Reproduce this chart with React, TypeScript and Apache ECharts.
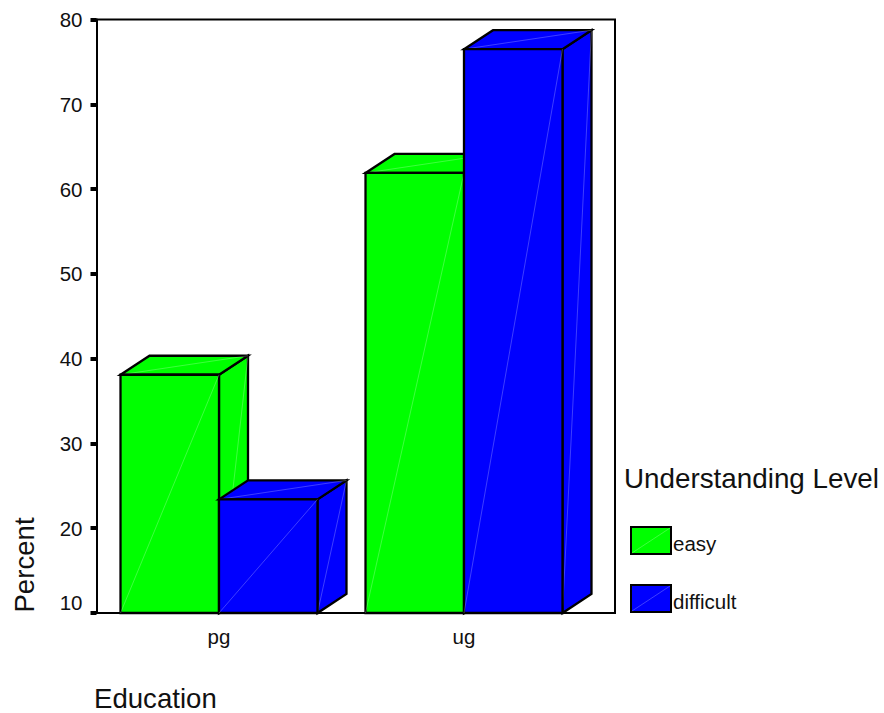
import React, { useEffect, useRef } from "react";
import * as echarts from "echarts";

const categories = ["pg", "ug"];
const easyValues = [38.1, 61.9];
const difficultValues = [23.4, 76.5];
const seriesColors = ["#00ff00", "#0000ff"];
const seriesNames = ["easy", "difficult"];
const yMin = 10;
const yMax = 80;

// Oblique extrusion of each box, in pixels
const depthX = 29;
const depthY = 19;
const barShare = 0.402;
const FONT = '"Liberation Sans", Arial, sans-serif';
const sheen = "rgba(255,255,255,0.35)";

const box3d = (seriesIndex: number) => (params: any, api: any) => {
  const cat = api.value(0);
  const [cx, yTop] = api.coord([cat, api.value(1)]);
  const [, yBase] = api.coord([cat, yMin]);
  const w = api.size([1, 0])[0] * barShare;
  const x0 = seriesIndex === 0 ? cx - w : cx;
  const x1 = x0 + w;
  const fill = seriesColors[seriesIndex];
  const outline = { fill, stroke: "#000", lineWidth: 2.3, lineJoin: "miter" };
  const diag = (x1a: number, y1a: number, x2a: number, y2a: number) => ({
    type: "line",
    shape: { x1: x1a, y1: y1a, x2: x2a, y2: y2a },
    style: { stroke: sheen, lineWidth: 0.7 },
  });
  return {
    type: "group",
    children: [
      {
        type: "polygon",
        shape: { points: [[x1, yTop], [x1 + depthX, yTop - depthY], [x1 + depthX, yBase - depthY], [x1, yBase]] },
        style: outline,
      },
      diag(x1, yBase, x1 + depthX, yTop - depthY),
      {
        type: "polygon",
        shape: { points: [[x0, yTop], [x0 + depthX, yTop - depthY], [x1 + depthX, yTop - depthY], [x1, yTop]] },
        style: outline,
      },
      diag(x0, yTop, x1 + depthX, yTop - depthY),
      {
        type: "polygon",
        shape: { points: [[x0, yTop], [x1, yTop], [x1, yBase], [x0, yBase]] },
        style: outline,
      },
      diag(x0, yBase, x1, yTop),
    ],
  };
};

const swatchLine = (x: number, y: number) => ({
  type: "line",
  silent: true,
  z: 20,
  shape: { x1: x + 1, y1: y + 26, x2: x + 39, y2: y + 1 },
  style: { stroke: sheen, lineWidth: 0.7 },
});

export default function App() {
  const ref = useRef<HTMLDivElement>(null);

  useEffect(() => {
    const chart = echarts.init(ref.current!, undefined, { renderer: "svg" });
    const makeSeries = (name: string, values: number[], i: number) => ({
      name,
      type: "custom",
      coordinateSystem: "cartesian2d",
      clip: false,
      renderItem: box3d(i),
      itemStyle: { color: seriesColors[i] },
      data: values.map((v, c) => [c, v]),
      encode: { x: 0, y: 1 },
    });
    chart.setOption({
      animation: false,
      backgroundColor: "#fff",
      grid: { left: 96.5, top: 19.5, width: 490, height: 593.5 },
      xAxis: {
        type: "category",
        data: categories,
        axisLine: { lineStyle: { color: "#000", width: 2 } },
        axisTick: { alignWithLabel: true, length: 6, lineStyle: { color: "#000", width: 4 } },
        axisLabel: { color: "#111", fontFamily: FONT, fontSize: 20.5, margin: 13 },
        splitLine: { show: false },
      },
      yAxis: {
        type: "value",
        min: yMin,
        max: yMax,
        interval: 10,
        axisLine: { show: true, lineStyle: { color: "#000", width: 2 } },
        axisTick: { show: true, length: 6, lineStyle: { color: "#000", width: 4 } },
        axisLabel: {
          color: "#111",
          fontFamily: FONT,
          fontSize: 20.5,
          margin: 14,
          verticalAlignMinLabel: "bottom",
        },
        splitLine: { show: false },
      },
      legend: {
        orient: "vertical",
        left: 625,
        top: 521,
        itemWidth: 40,
        itemHeight: 27,
        itemGap: 29,
        icon: "rect",
        selectedMode: false,
        data: seriesNames.map((name, i) => ({
          name,
          itemStyle: { color: seriesColors[i], borderColor: "#000", borderWidth: 2 },
        })),
        formatter: (name: string) => `{t|${name}}`,
        textStyle: {
          color: "#111",
          fontFamily: FONT,
          fontSize: 20.5,
          rich: {
            t: { color: "#111", fontFamily: FONT, fontSize: 20.5, padding: [6, 0, 0, -3] },
          },
        },
      },
      graphic: [
        {
          type: "polyline",
          silent: true,
          shape: { points: [[586, 613], [615, 613], [615, 19.5], [96, 19.5]] },
          style: { stroke: "#000", lineWidth: 2, fill: "none" },
        },
        swatchLine(631, 527),
        swatchLine(631, 585),
        {
          type: "text",
          x: 624,
          y: 478,
          style: { text: "Understanding Level", fill: "#111", font: `27.8px ${FONT}`, textVerticalAlign: "middle" },
        },
        {
          type: "text",
          x: 94,
          y: 698,
          style: {
            text: "Education",
            fill: "#111",
            font: `27.6px ${FONT}`,
            textVerticalAlign: "middle",
          },
        },
        {
          type: "text",
          x: 24,
          y: 565,
          rotation: Math.PI / 2,
          style: {
            text: "Percent",
            fill: "#111",
            font: `27.6px ${FONT}`,
            textAlign: "center",
            textVerticalAlign: "middle",
          },
        },
      ],
      series: [makeSeries(seriesNames[0], easyValues, 0), makeSeries(seriesNames[1], difficultValues, 1)],
    });
    return () => chart.dispose();
  }, []);

  return <div ref={ref} style={{ position: "fixed", left: 0, top: 0, width: 884, height: 713 }} />;
}
